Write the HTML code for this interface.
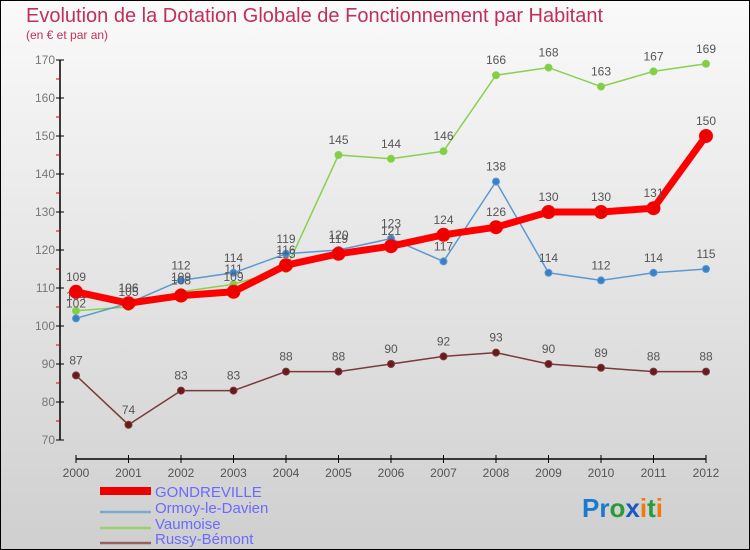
<!DOCTYPE html>
<html><head><meta charset="utf-8"><style>
body{margin:0}
#c{width:750px;height:550px;position:relative;overflow:hidden}
svg{display:block;font-family:"Liberation Sans",sans-serif}
</style></head><body>
<div id="c">
<svg id="s" width="750" height="550" xmlns="http://www.w3.org/2000/svg">
<defs><linearGradient id="bg" x1="0" y1="0" x2="0" y2="1"><stop offset="0" stop-color="#fafafa"/><stop offset="1" stop-color="#cfcfcf"/></linearGradient></defs>
<rect x="0.5" y="0.5" width="749" height="549" fill="url(#bg)" stroke="#000"/>
<text x="26" y="22" font-size="20" fill="#c0305a">Evolution de la Dotation Globale de Fonctionnement par Habitant</text>
<text x="26" y="39" font-size="12" fill="#c0305a">(en € et par an)</text>
<g id="axes"></g><g id="series"></g>
<g>
<rect x="100" y="487" width="51" height="8" fill="#e00"/>
<text x="155" y="497" font-size="15" fill="#6a6aff">GONDREVILLE</text>
<line x1="100" y1="512" x2="151" y2="512" stroke="#7aaad0" stroke-width="2.5"/>
<text x="155" y="513" font-size="15" fill="#6a6aff">Ormoy-le-Davien</text>
<line x1="100" y1="528" x2="151" y2="528" stroke="#9ad070" stroke-width="2.5"/>
<text x="155" y="529" font-size="15" fill="#6a6aff">Vaumoise</text>
<line x1="100" y1="543" x2="151" y2="543" stroke="#9a6060" stroke-width="2.5"/>
<text x="155" y="544" font-size="15" fill="#6a6aff">Russy-Bémont</text>
</g>
<text x="582" y="517" font-size="26" font-weight="bold"><tspan fill="#1a7ad0">Pr</tspan><tspan fill="#2a9a3a">o</tspan><tspan fill="#1a5ac0">x</tspan><tspan fill="#f07a10">i</tspan><tspan fill="#2a9a3a">t</tspan><tspan fill="#f07a10">i</tspan></text>
</svg></div>
<script>
const years=[2000,2001,2002,2003,2004,2005,2006,2007,2008,2009,2010,2011,2012];
const gondreville=[109,106,108,109,116,119,121,124,126,130,130,131,150];
const ormoy=[102,106,112,114,119,120,123,117,138,114,112,114,115];
const vaumoise=[104,105,109,111,115,145,144,146,166,168,163,167,169];
const russy=[87,74,83,83,88,88,90,92,93,90,89,88,88];
const yTicks=[70,80,90,100,110,120,130,140,150,160,170];
const NS="http://www.w3.org/2000/svg";
const x=i=>76+i*52.5;
const y=v=>440-(v-70)*3.8;
function mk(t,a,p){const e=document.createElementNS(NS,t);for(const k in a)e.setAttribute(k,a[k]);p.appendChild(e);return e;}
const ax=document.getElementById('axes');
const yl=mk('line',{x1:60,y1:60,x2:60,y2:440,stroke:'#000','stroke-width':1.5},ax);


const xl=mk('line',{x1:76,y1:459,x2:706,y2:459,stroke:'#000','stroke-width':1.5},ax);


yTicks.forEach(v=>{
 mk('line',{x1:56,y1:y(v),x2:64,y2:y(v),stroke:'#000'},ax);
 if(v<170)mk('line',{x1:56,y1:y(v+5),x2:60,y2:y(v+5),stroke:'#d00'},ax);
 const t=mk('text',{x:55,y:y(v)+4,'font-size':12,fill:'#777','text-anchor':'end'},ax);
 t.textContent=v;
 
 
});
years.forEach((yr,i)=>{
 mk('line',{x1:x(i),y1:455,x2:x(i),y2:463,stroke:'#000'},ax);
 const t=mk('text',{x:x(i),y:477,'font-size':12,fill:'#555','text-anchor':'middle'},ax);
 t.textContent=yr;
 
 
});
const sg=document.getElementById('series');
function draw(data,name,color,dot,w,r){
 const g=mk('g',{},sg);
 
 
 const pl=mk('polyline',{points:data.map((v,i)=>x(i)+','+y(v)).join(' '),fill:'none',stroke:color,'stroke-width':w,'stroke-linejoin':'round'},g);
 
 
 data.forEach((v,i)=>{
  const c=mk('circle',{cx:x(i),cy:y(v),r:r,fill:dot,stroke:color,'stroke-width':1},g);
  
  
  const t=mk('text',{x:x(i),y:y(v)-11,'font-size':12,fill:'#555','text-anchor':'middle'},g);
  t.textContent=v;
  
  
 });
}
draw(russy,'russy-bemont','#7a3a3a','#6a1a1a',1.5,3.5);
draw(vaumoise,'vaumoise','#8ad050','#80d040',1.5,3.5);
draw(ormoy,'ormoy-le-davien','#5a9ad0','#3a80c8',1.5,3.5);
draw(gondreville,'gondreville','#f00','#e00',7,6.5);
</script>
</body></html>
